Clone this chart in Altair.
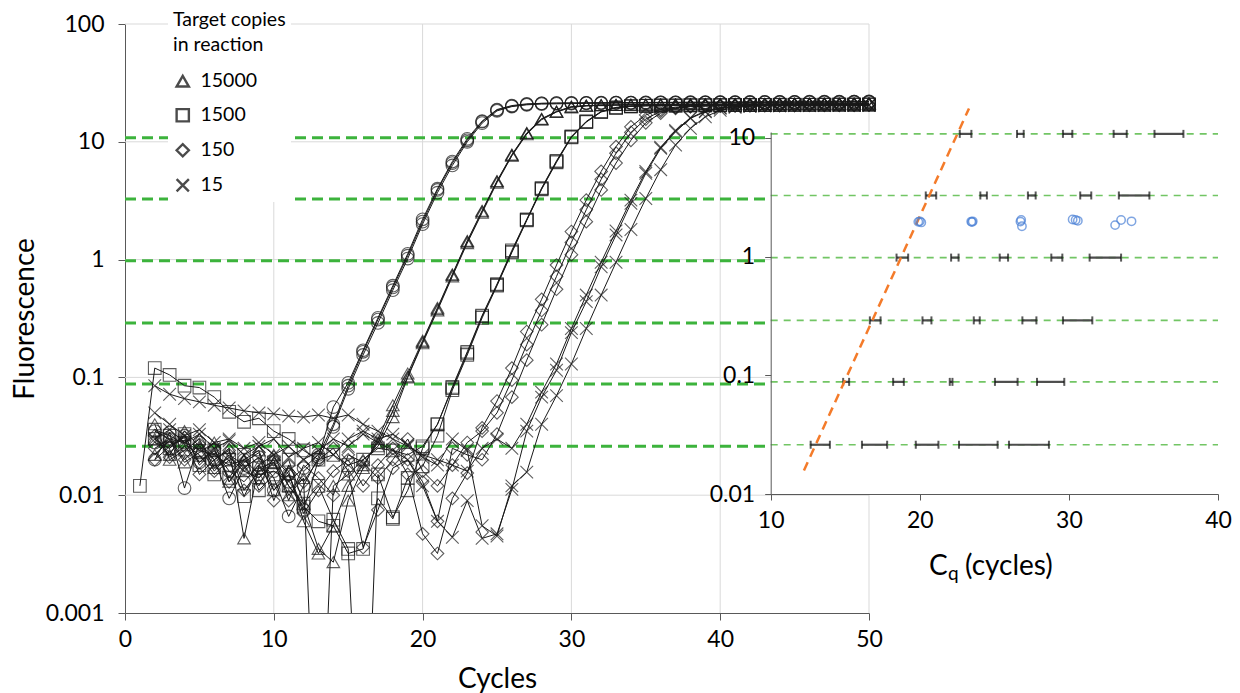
import altair as alt
import pandas as pd

# ---------------- main panel data (fluorescence per cycle, cycles 1..50) ----------------
cycles = list(range(1, 51))

circ_1 = [None, 0.035, 0.030, 0.028, 0.024, 0.022, 0.018, 0.020, 0.015, 0.016,
          0.013, 0.017, 0.022, 0.040, 0.085, 0.165, 0.31, 0.58, 1.08, 2.1,
          3.9, 6.6, 10.3, 14.8, 18.6, 20.1, 20.8, 21.2, 21.3, 21.4,
          21.4, 21.5, 21.5, 21.5, 21.6, 21.6, 21.6, 21.7, 21.7, 21.7,
          21.7, 21.8, 21.8, 21.8, 21.8, 21.9, 21.9, 21.9, 21.9, 22.0]
circ_2 = [None, 0.020, 0.034, 0.0115, 0.028, 0.020, 0.0094, 0.017, 0.021, 0.014,
          0.0066, 0.012, 0.021, 0.056, 0.090, 0.17, 0.32, 0.60, 1.12, 2.2,
          4.0, 6.8, 10.6, 15.0, 18.8, 20.3, 21.0, 21.2, 21.3, 21.3,
          21.4, 21.4, 21.5, 21.5, 21.5, 21.6, 21.6, 21.6, 21.6, 21.7,
          21.7, 21.7, 21.7, 21.8, 21.8, 21.8, 21.8, 21.8, 21.9, 21.9]
circ_3 = [None, 0.028, 0.025, 0.032, 0.019, 0.024, 0.016, 0.013, 0.018, 0.011,
          0.015, 0.0075, 0.020, 0.038, 0.080, 0.155, 0.29, 0.55, 1.02, 2.0,
          3.7, 6.3, 10.0, 14.4, 18.3, 19.9, 20.6, 20.9, 21.0, 21.1,
          21.2, 21.2, 21.3, 21.3, 21.3, 21.4, 21.4, 21.4, 21.5, 21.5,
          21.5, 21.5, 21.6, 21.6, 21.6, 21.6, 21.6, 21.7, 21.7, 21.7]

tri_1 = [None, 0.030, 0.022, 0.035, 0.026, 0.020, 0.025, 0.0043, 0.018, 0.022,
         0.012, 0.0085, 0.0035, 0.0027, 0.009, 0.017, 0.030, 0.058, 0.108, 0.205,
         0.39, 0.75, 1.44, 2.6, 4.65, 7.8, 11.9, 15.7, 18.1, 19.8,
         20.3, 20.5, 20.6, 20.7, 20.7, 20.8, 20.8, 20.9, 20.9, 20.9,
         21.0, 21.0, 21.0, 21.0, 21.1, 21.1, 21.1, 21.1, 21.1, 21.2]
tri_2 = [None, 0.040, 0.020, 0.024, 0.030, 0.017, 0.021, 0.016, 0.014, 0.019,
         0.010, 0.014, 0.00001, 0.012, 0.015, 0.020, 0.026, 0.046, 0.100, 0.195,
         0.37, 0.72, 1.38, 2.5, 4.5, 7.6, 11.6, 15.4, 17.9, 19.6,
         20.2, 20.4, 20.5, 20.6, 20.6, 20.7, 20.7, 20.8, 20.8, 20.8,
         20.9, 20.9, 20.9, 20.9, 21.0, 21.0, 21.0, 21.0, 21.0, 21.1]
tri_3 = [None, 0.022, 0.029, 0.019, 0.023, 0.028, 0.013, 0.020, 0.024, 0.011,
         0.016, 0.006, 0.0032, 0.0055, 0.012, 0.018, 0.028, 0.052, 0.102, 0.20,
         0.38, 0.74, 1.42, 2.56, 4.6, 7.7, 11.8, 15.6, 18.0, 19.9,
         20.2, 20.4, 20.5, 20.5, 20.6, 20.6, 20.7, 20.7, 20.7, 20.8,
         20.8, 20.8, 20.8, 20.9, 20.9, 20.9, 20.9, 20.9, 21.0, 21.0]

sq_1 = [0.012, 0.12, 0.105, 0.085, 0.082, 0.068, 0.051, 0.042, 0.045, 0.035,
        0.030, 0.024, 0.020, 0.022, 0.018, 0.020, 0.025, 0.024, 0.022, 0.026,
        0.040, 0.081, 0.16, 0.33, 0.61, 1.17, 2.17, 4.0, 6.8, 11.0,
        14.8, 18.0, 19.5, 20.0, 20.2, 20.3, 20.3, 20.4, 20.4, 20.5,
        20.5, 20.5, 20.6, 20.6, 20.6, 20.6, 20.7, 20.7, 20.7, 20.7]
sq_2 = [None, 0.036, 0.032, 0.027, 0.022, 0.015, 0.020, 0.0098, 0.017, 0.019,
        0.012, 0.008, 0.006, 0.0055, 0.0032, 0.0035, 0.0094, 0.0063, 0.014, 0.0176,
        0.032, 0.078, 0.155, 0.32, 0.60, 1.15, 2.15, 3.95, 6.7, 10.9,
        14.7, 17.9, 19.4, 20.0, 20.2, 20.3, 20.3, 20.4, 20.4, 20.4,
        20.5, 20.5, 20.5, 20.5, 20.6, 20.6, 20.6, 20.6, 20.6, 20.7]
sq_3 = [None, 0.030, 0.025, 0.033, 0.018, 0.024, 0.014, 0.022, 0.011, 0.015,
        0.020, 0.0085, 0.012, 0.0062, 0.0035, 0.00001, 0.015, 0.0065, 0.011, 0.025,
        0.040, 0.083, 0.165, 0.335, 0.62, 1.2, 2.2, 4.05, 6.9, 11.1,
        14.9, 18.1, 19.6, 20.1, 20.3, 20.4, 20.4, 20.5, 20.5, 20.5,
        20.6, 20.6, 20.6, 20.7, 20.7, 20.7, 20.7, 20.8, 20.8, 20.8]

dia_1 = [None, 0.025, 0.030, 0.020, 0.027, 0.016, 0.022, 0.018, 0.012, 0.021,
         0.015, 0.007, 0.011, 0.016, 0.020, 0.012, 0.018, 0.025, 0.015, 0.0047,
         0.0032, 0.0094, 0.0154, 0.0373, 0.063, 0.12, 0.245, 0.46, 0.90, 1.73,
         3.2, 5.6, 9.1, 13.4, 16.9, 18.8, 19.7, 20.0, 20.2, 20.3,
         20.3, 20.4, 20.4, 20.4, 20.5, 20.5, 20.5, 20.5, 20.6, 20.6]
dia_2 = [None, 0.032, 0.021, 0.026, 0.019, 0.025, 0.013, 0.019, 0.023, 0.009,
         0.018, 0.013, 0.020, 0.025, 0.016, 0.0036, 0.0075, 0.017, 0.020, 0.013,
         0.006, 0.025, 0.022, 0.020, 0.033, 0.068, 0.14, 0.28, 0.56, 1.1,
         2.1, 3.9, 6.6, 10.3, 14.5, 17.5, 19.2, 19.9, 20.1, 20.2,
         20.3, 20.3, 20.4, 20.4, 20.4, 20.5, 20.5, 20.5, 20.5, 20.6]
dia_3 = [None, 0.020, 0.026, 0.031, 0.015, 0.020, 0.024, 0.011, 0.016, 0.020,
         0.009, 0.018, 0.014, 0.010, 0.022, 0.019, 0.014, 0.020, 0.030, 0.016,
         0.012, 0.018, 0.028, 0.035, 0.050, 0.095, 0.19, 0.37, 0.72, 1.4,
         2.65, 4.8, 8.0, 12.0, 15.6, 18.2, 19.5, 20.0, 20.2, 20.3,
         20.3, 20.4, 20.4, 20.4, 20.4, 20.5, 20.5, 20.5, 20.5, 20.6]

x_1 = [None, 0.085, 0.072, 0.066, 0.062, 0.058, 0.055, 0.052, 0.050, 0.049,
       0.047, 0.046, 0.048, 0.045, 0.048, 0.040, 0.035, 0.030, 0.026, 0.022,
       0.020, 0.018, 0.016, 0.025, 0.030, 0.025, 0.040, 0.075, 0.13, 0.26,
       0.50, 0.95, 1.75, 3.2, 5.6, 9.0, 12.5, 16.0, 18.2, 19.5,
       20.0, 20.2, 20.3, 20.3, 20.4, 20.4, 20.4, 20.5, 20.5, 20.5]
x_2 = [None, 0.050, 0.040, 0.032, 0.036, 0.028, 0.030, 0.025, 0.028, 0.022,
       0.026, 0.020, 0.024, 0.030, 0.026, 0.033, 0.028, 0.024, 0.020, 0.012,
       0.006, 0.0044, 0.009, 0.0043, 0.0047, 0.0112, 0.035, 0.068, 0.115, 0.24,
       0.44, 0.87, 1.62, 3.0, 5.4, 8.8, 12.2, 15.8, 18.0, 19.3,
       19.9, 20.1, 20.2, 20.3, 20.3, 20.3, 20.4, 20.4, 20.4, 20.5]
x_3 = [None, 0.030, 0.036, 0.028, 0.033, 0.025, 0.029, 0.022, 0.026, 0.030,
       0.021, 0.025, 0.028, 0.022, 0.030, 0.035, 0.030, 0.033, 0.027, 0.021,
       0.018, 0.030, 0.024, 0.0055, 0.0045, 0.012, 0.0157, 0.040, 0.070, 0.13,
       0.26, 0.50, 0.95, 1.8, 3.3, 5.8, 9.4, 13.0, 16.3, 18.5,
       19.6, 20.0, 20.2, 20.2, 20.3, 20.3, 20.3, 20.4, 20.4, 20.4]

# thresholds (green dashed lines)
thresholds = [10.8, 3.27, 0.98, 0.29, 0.088, 0.026]

legend_groups = ["15000", "1500", "150", "15"]

# main panel tick / grid values
main_x_ticks = [0, 10, 20, 30, 40, 50]
main_y_ticks = [0.001, 0.01, 0.1, 1, 10, 100]
grid_x = [10, 20, 30, 40, 50]
grid_y = [0.01, 0.1, 1, 10, 100]

# ---------------- inset data (Cq ranges per threshold, 5 dilutions) ----------------
cq_thr = [10.8] * 5 + [3.27] * 5 + [0.98] * 5 + [0.29] * 5 + [0.088] * 5 + [0.026] * 5
cq_lo = [22.68, 26.52, 29.60, 33.00, 35.74,
         20.40, 24.06, 27.25, 30.76, 33.35,
         18.44, 22.10, 25.36, 28.82, 31.39,
         16.65, 20.18, 23.62, 26.88, 29.60,
         14.86, 18.21, 22.01, 25.04, 27.86,
         12.68, 16.12, 19.73, 22.63, 25.98]
cq_hi = [23.46, 26.97, 30.23, 33.88, 37.68,
         21.10, 24.50, 27.77, 31.50, 35.40,
         19.22, 22.60, 25.92, 29.56, 33.50,
         17.37, 20.78, 24.02, 27.82, 31.57,
         15.26, 18.93, 22.19, 26.56, 29.69,
         13.97, 17.81, 21.25, 25.22, 28.66]

blue_x = [19.9, 20.0, 20.1, 23.45, 23.5, 23.55, 26.75, 26.8, 26.85, 30.25, 30.45, 30.6, 33.1, 33.5, 34.2]
blue_y = [1.96, 1.98, 1.94, 1.97, 1.95, 1.98, 1.97, 2.03, 1.80, 2.05, 2.03, 2.0, 1.84, 2.03, 1.98]

fit_x = [12.23, 23.3]
fit_y = [0.0158, 17.7]

inset_x_ticks = [10, 20, 30, 40]
inset_y_ticks = [0.01, 0.1, 1, 10]

# ---------------- build tables ----------------
curves = [
    ("150000", "c1", circ_1), ("150000", "c2", circ_2), ("150000", "c3", circ_3),
    ("15000", "t1", tri_1), ("15000", "t2", tri_2), ("15000", "t3", tri_3),
    ("1500", "s1", sq_1), ("1500", "s2", sq_2), ("1500", "s3", sq_3),
    ("150", "d1", dia_1), ("150", "d2", dia_2), ("150", "d3", dia_3),
    ("15", "x1", x_1), ("15", "x2", x_2), ("15", "x3", x_3),
]
rows = []
for grp, name, vals in curves:
    for c, v in zip(cycles, vals):
        if v is not None:
            rows.append({"group": grp, "curve": name, "cycle": c, "fluor": v})
df = pd.DataFrame(rows)
df_thr = pd.DataFrame({"thr": thresholds})
df_gx = pd.DataFrame({"gx": grid_x})
df_gy = pd.DataFrame({"gy": grid_y})
df_cq = pd.DataFrame({"thr": cq_thr, "lo": cq_lo, "hi": cq_hi})
df_blue = pd.DataFrame({"cq": blue_x, "f": blue_y})
df_fit = pd.DataFrame({"cq": fit_x, "f": fit_y})

FONT = "Lato"
XPATH = "M-1,-1L1,1M-1,1L1,-1"
AXC = "#595959"
GRIDC = "#d9d9d9"

# ---------------- scales / axes ----------------
main_x_scale = alt.Scale(domain=[0, 50], range=[0, 744], nice=False, zero=False)
main_y_scale = alt.Scale(type="log", domain=[0.001, 100], nice=False)
main_x_axis = alt.Axis(values=main_x_ticks, title="Cycles", grid=False, labelFlush=False,
                       domainColor=AXC, tickColor=AXC,
                       tickSize=7, labelFont=FONT, labelFontSize=23, labelColor="black",
                       labelPadding=8, titleFont=FONT, titleFontSize=28,
                       titleFontWeight="normal", titleColor="black", titlePadding=14)
main_y_axis = alt.Axis(values=main_y_ticks, format="~g", title="Fluorescence",
                       grid=False, labelFlush=False, domainColor=AXC, tickColor=AXC,
                       tickSize=7, labelFont=FONT, labelFontSize=23, labelColor="black",
                       labelPadding=14, titleFont=FONT, titleFontSize=28,
                       titleFontWeight="normal", titleColor="black", titlePadding=6)

inset_x_scale = alt.Scale(domain=[10, 40], range=[645.7, 1093], nice=False, zero=False)
inset_y_scale = alt.Scale(type="log", domain=[0.01, 11.2], range=[470, 108], nice=False)
inset_x_axis = alt.Axis(values=inset_x_ticks, orient="bottom", offset=-119, title=None,
                        grid=False, labelFlush=False, domainColor=AXC, tickColor=AXC, tickSize=6,
                        labelFont=FONT, labelFontSize=23, labelColor="black", labelPadding=9,
                        zindex=2)
inset_y_axis = alt.Axis(values=inset_y_ticks, format="~g", orient="left", offset=-645.7,
                        title=None, grid=False, labelFlush=False, domainColor=AXC, tickColor=AXC,
                        tickSize=6, labelFont=FONT, labelFontSize=23, labelColor="black",
                        labelPadding=10, zindex=2)

# ---------------- main panel ----------------
grid_v = alt.Chart(df_gx).mark_rule(color=GRIDC, strokeWidth=1).encode(
    x=alt.X("gx:Q", scale=main_x_scale, axis=main_x_axis),
    y=alt.YDatum(0.001, scale=main_y_scale, axis=main_y_axis),
    y2=alt.Y2Datum(100),
)
grid_h = alt.Chart(df_gy).mark_rule(color=GRIDC, strokeWidth=1).encode(
    x=alt.XDatum(0, scale=main_x_scale, axis=main_x_axis),
    x2=alt.X2Datum(50),
    y=alt.Y("gy:Q", scale=main_y_scale, axis=main_y_axis),
)

green_main = alt.Chart(df_thr).mark_rule(color="#3cb33c", strokeWidth=3, strokeDash=[11, 6]).encode(
    x=alt.XDatum(0, scale=main_x_scale, axis=main_x_axis),
    x2=alt.X2Datum(50),
    y=alt.Y("thr:Q", scale=main_y_scale, axis=main_y_axis),
)

lines = alt.Chart(df).mark_line(color="#1a1a1a", strokeWidth=1, clip=True).encode(
    x=alt.X("cycle:Q", scale=main_x_scale, axis=main_x_axis),
    y=alt.Y("fluor:Q", scale=main_y_scale, axis=main_y_axis),
    detail="curve:N",
)

pts_circ = alt.Chart(df).transform_filter(alt.datum.group == "150000").mark_point(
    shape="circle", filled=False, size=160, strokeWidth=1.1, color="#1a1a1a", clip=True
).encode(
    x=alt.X("cycle:Q", scale=main_x_scale, axis=main_x_axis),
    y=alt.Y("fluor:Q", scale=main_y_scale, axis=main_y_axis),
)

pts_other = alt.Chart(df).transform_filter(alt.datum.group != "150000").mark_point(
    filled=False, size=160, strokeWidth=1.1, color="#1a1a1a", clip=True
).encode(
    x=alt.X("cycle:Q", scale=main_x_scale, axis=main_x_axis),
    y=alt.Y("fluor:Q", scale=main_y_scale, axis=main_y_axis),
    shape=alt.Shape(
        "group:N",
        sort=legend_groups,
        scale=alt.Scale(domain=legend_groups, range=["triangle-up", "square", "diamond", XPATH]),
        legend=alt.Legend(
            title=["Target copies", "in reaction"], orient="none", legendX=43, legendY=-18,
            fillColor="white", padding=5, titleFont=FONT, titleFontSize=19.5,
            titleFontWeight="normal", titleColor="black", titleLineHeight=25, titlePadding=16,
            labelFont=FONT, labelFontSize=19.5, labelColor="black", labelOffset=8,
            symbolSize=150, symbolStrokeWidth=2.4, symbolStrokeColor="black",
            symbolFillColor="white", rowPadding=12,
        ),
    ),
)

main = alt.layer(grid_v, grid_h, green_main, lines, pts_circ, pts_other)

# ---------------- inset panel ----------------
bg = alt.Chart(pd.DataFrame({"k": [0]})).mark_rect(color="white").encode(
    x=alt.XDatum(10, scale=inset_x_scale, axis=inset_x_axis),
    x2=alt.X2Datum(40),
    y=alt.YDatum(0.01, scale=inset_y_scale, axis=inset_y_axis),
    y2=alt.Y2Datum(11.2),
)

green_inset = alt.Chart(df_thr).mark_rule(color="#72c564", strokeWidth=1.6, strokeDash=[7, 6]).encode(
    x=alt.XDatum(10, scale=inset_x_scale, axis=inset_x_axis),
    x2=alt.X2Datum(40),
    y=alt.Y("thr:Q", scale=inset_y_scale, axis=inset_y_axis),
)

bars = alt.Chart(df_cq).mark_rule(color="#4d4d4d", strokeWidth=2.2).encode(
    x=alt.X("lo:Q", scale=inset_x_scale, axis=inset_x_axis),
    x2="hi:Q",
    y=alt.Y("thr:Q", scale=inset_y_scale, axis=inset_y_axis),
)
caps_lo = alt.Chart(df_cq).mark_tick(color="#111111", orient="vertical", size=8, thickness=2).encode(
    x=alt.X("lo:Q", scale=inset_x_scale, axis=inset_x_axis),
    y=alt.Y("thr:Q", scale=inset_y_scale, axis=inset_y_axis),
)
caps_hi = alt.Chart(df_cq).mark_tick(color="#111111", orient="vertical", size=8, thickness=2).encode(
    x=alt.X("hi:Q", scale=inset_x_scale, axis=inset_x_axis),
    y=alt.Y("thr:Q", scale=inset_y_scale, axis=inset_y_axis),
)

fit = alt.Chart(df_fit).mark_line(color="#f47b2a", strokeWidth=2.5, strokeDash=[9, 6]).encode(
    x=alt.X("cq:Q", scale=inset_x_scale, axis=inset_x_axis),
    y=alt.Y("f:Q", scale=inset_y_scale, axis=inset_y_axis),
)

blue = alt.Chart(df_blue).mark_point(shape="circle", filled=False, size=70, strokeWidth=1.5,
                                     color="#4a80d6").encode(
    x=alt.X("cq:Q", scale=inset_x_scale, axis=inset_x_axis),
    y=alt.Y("f:Q", scale=inset_y_scale, axis=inset_y_axis),
)

tdata = pd.DataFrame({"k": [0]})
t_c = alt.Chart(tdata).mark_text(text="C", font=FONT, fontSize=28, align="left", baseline="alphabetic",
                                 color="black").encode(x=alt.value(804), y=alt.value(551))
t_q = alt.Chart(tdata).mark_text(text="q", font=FONT, fontSize=19, align="left", baseline="alphabetic",
                                 color="black").encode(x=alt.value(823), y=alt.value(556))
t_cy = alt.Chart(tdata).mark_text(text="(cycles)", font=FONT, fontSize=28, align="left",
                                  baseline="alphabetic", color="black").encode(x=alt.value(840), y=alt.value(551))

inset = alt.layer(bg, green_inset, bars, caps_lo, caps_hi, fit, blue, t_c, t_q, t_cy)

chart = alt.layer(main, inset).resolve_scale(x="independent", y="independent").properties(
    width=1093, height=589,
    autosize=alt.AutoSizeParams(type="none"),
    padding={"left": 125, "top": 24, "right": 22, "bottom": 80},
    background="white",
).configure_view(stroke="transparent", strokeWidth=0)

chart.save("out.html", embed_options={"renderer": "svg", "actions": False})
